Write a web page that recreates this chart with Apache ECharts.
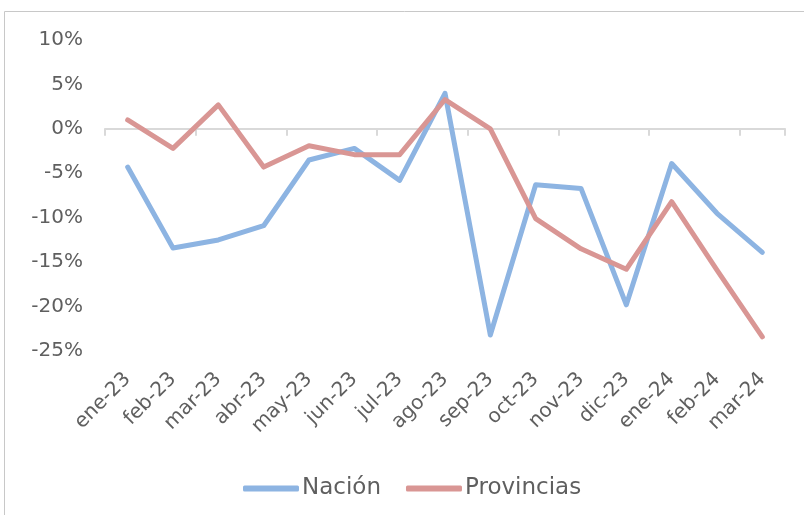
<!DOCTYPE html>
<html>
<head>
<meta charset="utf-8">
<script src="https://cdn.jsdelivr.net/npm/echarts@6/dist/echarts.min.js"></script>
<style>
	html, body { margin: 0; padding: 0; background: #fff; }
	#main { width: 804px; height: 515px; }
</style>
</head>
<body>
<div id="main"></div>
<script>
// categorias (meses)
var meses = ['ene-23', 'feb-23', 'mar-23', 'abr-23', 'may-23', 'jun-23', 'jul-23', 'ago-23',
	'sep-23', 'oct-23', 'nov-23', 'dic-23', 'ene-24', 'feb-24', 'mar-24'];

// variacion % Nación
var nacion = [-4.3, -13.4, -12.5, -10.9, -3.5, -2.2, -5.8, 4.0, -23.2, -6.3, -6.7, -19.8, -3.9, -9.5, -13.9];

// variacion % Provincias
var provincias = [1.0, -2.2, 2.7, -4.3, -1.9, -2.9, -2.9, 3.3, 0.0, -10.1, -13.5, -15.8, -8.2, -15.9, -23.4];

var fuente = 'DejaVu Sans';
var gris = '#5f5f5f';

var chart = echarts.init(document.getElementById('main'));

var option = {
	animation: false,
	//marco
	graphic: [{
		type: 'polyline',
		shape: { points: [[4.5, 520], [4.5, 11.5], [810, 11.5]] },
		style: { fill: 'none', stroke: '#c8c8c8', lineWidth: 1 }
	}],
	//leyenda
	legend: {
		top: 472,
		left: 238,
		itemWidth: 56,
		itemHeight: 6,
		itemGap: 25,
		icon: 'roundRect',
		textStyle: {
			color: gris,
			fontSize: 23,
			fontFamily: fuente,
			padding: [0, 0, 0, -2]
		},
		data: ['Nación', 'Provincias']
	},
	//rejilla
	grid: {
		top: 40,
		left: 105,
		right: 19,
		height: 311
	},
	xAxis: [
		{
			type: 'category',
			data: meses,
			boundaryGap: true,
			axisLine: { onZero: true, lineStyle: { color: '#d9d9d9', width: 2 } },
			axisTick: { show: true, length: 7, lineStyle: { color: '#d9d9d9', width: 2 } },
			axisLabel: { show: false },
			splitLine: { show: false }
		},
		{
			type: 'category',
			data: meses,
			position: 'bottom',
			boundaryGap: true,
			axisLine: { show: false },
			axisTick: { show: false },
			axisLabel: {
				rotate: 45,
				margin: 25,
				color: gris,
				fontSize: 20,
				fontFamily: fuente
			}
		}
	],
	yAxis: {
		type: 'value',
		min: -25,
		max: 10,
		interval: 5,
		axisLine: { show: false },
		axisTick: { show: false },
		splitLine: { show: false },
		axisLabel: {
			margin: 22,
			color: gris,
			fontSize: 20,
			fontFamily: fuente,
			formatter: '{value}%'
		}
	},
	series: [
		{
			name: 'Nación',
			type: 'line',
			xAxisIndex: 0,
			data: nacion,
			symbol: 'none',
			lineStyle: { color: '#8db4e2', width: 5, cap: 'round', join: 'round' },
			itemStyle: { color: '#8db4e2' }
		},
		{
			name: 'Provincias',
			type: 'line',
			xAxisIndex: 0,
			data: provincias,
			symbol: 'none',
			lineStyle: { color: '#d99694', width: 5, cap: 'round', join: 'round' },
			itemStyle: { color: '#d99694' }
		}
	]
};

chart.setOption(option);
</script>
</body>
</html>
